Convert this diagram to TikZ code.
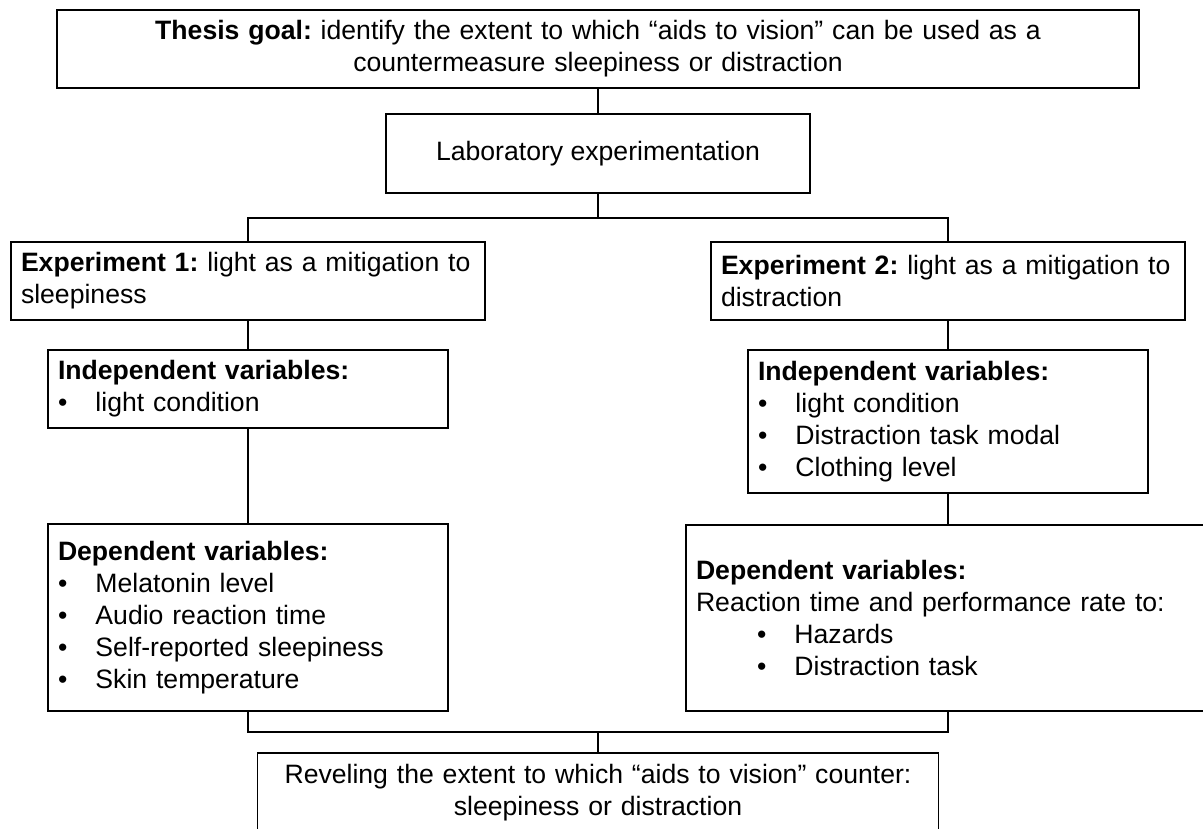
\documentclass[tikz,border=0pt]{standalone}
\usepackage{fontspec}
\setmainfont{Liberation Sans}
\frenchspacing
\newcommand{\itm}[1]{\makebox[37.5pt][l]{\textbullet}#1}

\begin{document}
\begin{tikzpicture}[x=1pt,y=-1pt,
  box/.style={draw,line width=1.5pt,inner xsep=10pt,inner ysep=0pt,
    font=\fontsize{26.6}{32}\selectfont},
  link/.style={line width=2pt}]
  \useasboundingbox (0,0) rectangle (1203,828);
  \node[box,align=center,text width=1062pt,minimum height=78pt] (goal) at (598,49)
    {\textbf{Thesis goal:} identify the extent to which “aids to vision” can be used as a\\
     countermeasure sleepiness or distraction};
  \node[box,minimum width=424pt,minimum height=79pt] (lab) at (598,153.5)
    {Laboratory experimentation};
  \node[box,align=left,text width=454pt,minimum height=78pt] (exp1) at (248,281)
    {\textbf{Experiment 1:} light as a mitigation to\\ sleepiness};
  \node[box,align=left,text width=454pt,minimum height=78pt] (exp2) at (948,281)
    {\textbf{Experiment 2:} light as a mitigation to\\ distraction};
  \node[box,align=left,text width=380pt,minimum height=78pt] (iv1) at (248,389)
    {\textbf{Independent variables:}\\ \itm{light condition}};
  \node[box,align=left,text width=380pt,minimum height=143pt] (iv2) at (948,421.5)
    {\textbf{Independent variables:}\\ \itm{light condition}\\
     \itm{Distraction task modal}\\ \itm{Clothing level}};
  \node[box,align=left,text width=380pt,minimum height=187pt] (dv1) at (248,617.5)
    {\textbf{Dependent variables:}\\ \itm{Melatonin level}\\ \itm{Audio reaction time}\\
     \itm{Self-reported sleepiness}\\ \itm{Skin temperature}};
  \node[box,align=left,text width=504pt,minimum height=186pt] (dv2) at (948,618)
    {\textbf{Dependent variables:}\\ Reaction time and performance rate to:\\
     \hspace*{61pt}\itm{Hazards}\\ \hspace*{61pt}\itm{Distraction task}};
  \node[box,align=center,text width=661pt,minimum height=79pt] (result) at (598,792.5)
    {Reveling the extent to which “aids to vision” counter:\\ sleepiness or distraction};

  \draw[link] (goal.south) -- (lab.north);
  \draw[link] (lab.south) -- ++(0,24) -| (exp1.north);
  \draw[link] (lab.south) -- ++(0,24) -| (exp2.north);
  \draw[link] (exp1.south) -- (iv1.north);
  \draw[link] (iv1.south) -- (dv1.north);
  \draw[link] (exp2.south) -- (iv2.north);
  \draw[link] (iv2.south) -- (dv2.north);
  \draw[link] (dv1.south) -- ++(0,20) -| (result.north);
  \draw[link] (dv2.south) -- ++(0,20) -| (result.north);
\end{tikzpicture}
\end{document}
